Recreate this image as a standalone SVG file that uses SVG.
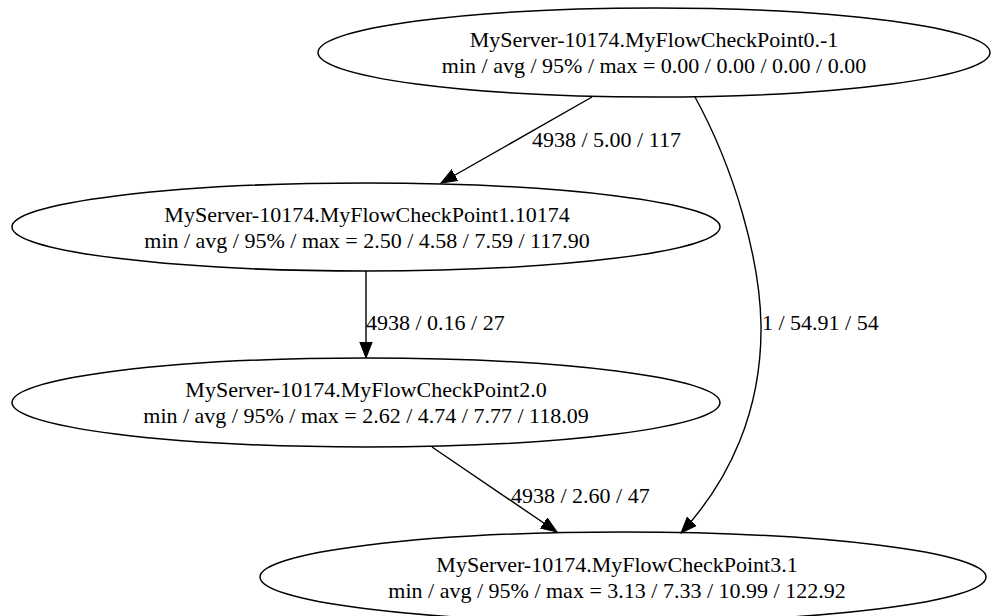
<svg xmlns="http://www.w3.org/2000/svg" width="999" height="616" viewBox="0 0 999 616">
<style>
  .node ellipse { fill: none; stroke: #000; stroke-width: 1.5; }
  text { font-family: "Liberation Serif", "Times New Roman", serif; font-size: 22px; fill: #000; }
  .node text { text-anchor: middle; }
  .edge path { fill: none; stroke: #000; stroke-width: 1.4; marker-end: url(#arrow); }
</style>
<defs>
  <marker id="arrow" markerUnits="userSpaceOnUse" markerWidth="18" markerHeight="14" refX="16" refY="7" orient="auto" viewBox="0 0 18 14">
    <path d="M0,0.8 L16,7 L0,13.2 z" fill="#000" stroke="#000" stroke-width="1"/>
  </marker>
</defs>
<rect width="999" height="616" fill="#fff"/>
<g id="n0" class="node">
  <ellipse cx="654" cy="52.5" rx="336" ry="44.5"/>
  <text x="654" y="47">MyServer-10174.MyFlowCheckPoint0.-1</text>
  <text x="654" y="73.4">min / avg / 95% / max = 0.00 / 0.00 / 0.00 / 0.00</text>
</g>
<g id="n1" class="node">
  <ellipse cx="366" cy="227" rx="354" ry="44"/>
  <text x="367" y="221.5">MyServer-10174.MyFlowCheckPoint1.10174</text>
  <text x="367" y="247.9">min / avg / 95% / max = 2.50 / 4.58 / 7.59 / 117.90</text>
</g>
<g id="n2" class="node">
  <ellipse cx="366" cy="402.5" rx="354" ry="44.5"/>
  <text x="366" y="397">MyServer-10174.MyFlowCheckPoint2.0</text>
  <text x="366" y="423.4">min / avg / 95% / max = 2.62 / 4.74 / 7.77 / 118.09</text>
</g>
<g id="n3" class="node">
  <ellipse cx="623" cy="577" rx="363" ry="45"/>
  <text x="617" y="571.5">MyServer-10174.MyFlowCheckPoint3.1</text>
  <text x="617" y="597.9">min / avg / 95% / max = 3.13 / 7.33 / 10.99 / 122.92</text>
</g>
<g id="edges" class="edge">
  <path d="M592,97 L441,183"/>
  <text x="532" y="147">4938 / 5.00 / 117</text>
  <path d="M366,271 L366,358"/>
  <text x="366" y="330">4938 / 0.16 / 27</text>
  <path d="M695,97 C735,170 760,260 761,325 C762,410 730,480 681,533"/>
  <text x="762" y="330">1 / 54.91 / 54</text>
  <path d="M432,447 L557,532"/>
  <text x="511" y="503">4938 / 2.60 / 47</text>
</g>
</svg>
